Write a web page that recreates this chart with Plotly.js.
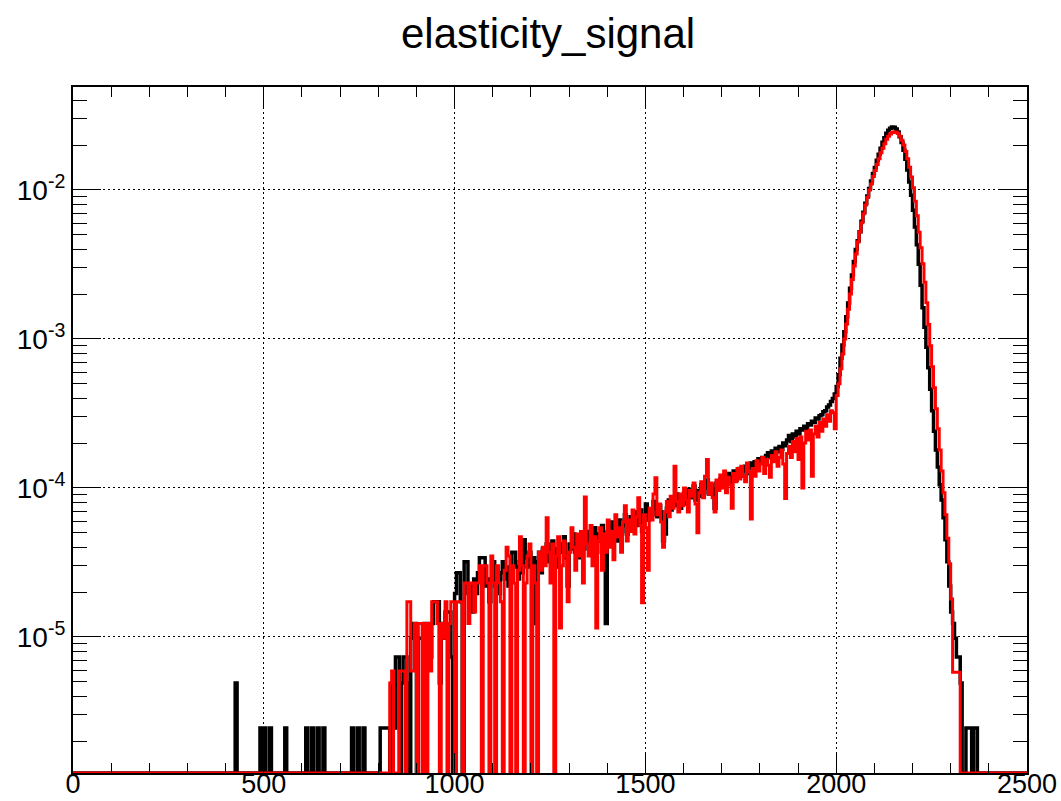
<!DOCTYPE html>
<html>
<head>
<meta charset="utf-8">
<script src="https://cdn.plot.ly/plotly-3.0.1.min.js"></script>
<style>
html,body{margin:0;padding:0;background:#fff;}
#chart{width:1061px;height:801px;}
</style>
</head>
<body>
<div id="chart"></div>
<script>
// ---------------- data ----------------
const chartTitle = "elasticity_signal";

// histogram binning
const histMin = 0;
const histMax = 2500;
const binWidth = 5;
const denseStart = 800;   // first bin of the dense arrays below

// isolated low-x bins of the black histogram (bin lower edge, content)
const blackSparseBins = [425, 490, 500, 515, 555, 610, 625, 640, 655, 730, 745, 760];
const blackSparseValues = [4.9e-6, 2.45e-6, 2.45e-6, 2.45e-6, 2.45e-6, 2.45e-6, 2.45e-6, 2.45e-6, 2.45e-6, 2.45e-6, 2.45e-6, 2.45e-6];

// black histogram, bins 800 ... 2395 (width 5)
const blackDense = [
  // 800 - 995
  0, 2.45e-6, 2.45e-6, 2.45e-6, 2.45e-6, 2.45e-6, 0, 4.9e-6, 2.45e-6, 7.35e-6,
  7.35e-6, 0, 4.9e-6, 7.35e-6, 7.35e-6, 4.9e-6, 0, 9.8e-6, 1.23e-5, 1.23e-5,
  0, 9.8e-6, 9.8e-6, 9.8e-6, 1.23e-5, 1.23e-5, 1.23e-5, 7.35e-6, 1.23e-5, 1.72e-5,
  1.72e-5, 1.72e-5, 4.9e-6, 1.23e-5, 9.8e-6, 1.47e-5, 1.47e-5, 1.47e-5, 7.35e-6, 0,
  // 1000 - 1195
  1.96e-5, 2.7e-5, 2.7e-5, 1.72e-5, 0, 3.2e-5, 3.2e-5, 1.96e-5, 2.2e-5, 1.47e-5,
  2.45e-5, 1.96e-5, 2.7e-5, 3.4e-5, 3.4e-5, 3.4e-5, 2.2e-5, 2.45e-5, 1.72e-5, 2.45e-5,
  3.2e-5, 2.2e-5, 2.7e-5, 1.96e-5, 2.7e-5, 3.2e-5, 2.45e-5, 2.95e-5, 2.2e-5, 2.7e-5,
  3.7e-5, 3.7e-5, 2.95e-5, 2.45e-5, 3.2e-5, 2.7e-5, 4.5e-5, 3.4e-5, 2.95e-5, 3.7e-5,
  // 1200 - 1395
  2.95e-5, 3.4e-5, 1.23e-5, 3.2e-5, 3.7e-5, 2.7e-5, 3.9e-5, 3.4e-5, 4.2e-5, 3.2e-5,
  3.7e-5, 4.4e-5, 3.4e-5, 3.9e-5, 2.95e-5, 4.2e-5, 3.7e-5, 4.7e-5, 3.4e-5, 2.2e-5,
  4.2e-5, 3.9e-5, 4.9e-5, 3.7e-5, 4.4e-5, 3.4e-5, 4.7e-5, 3.9e-5, 4.4e-5, 5.1e-5,
  3.9e-5, 4.7e-5, 4.2e-5, 5.4e-5, 3.7e-5, 4.9e-5, 4.4e-5, 5.6e-5, 4.2e-5, 1.23e-5,
  // 1400 - 1595
  5.1e-5, 4.4e-5, 5.9e-5, 4.9e-5, 5.4e-5, 4.4e-5, 6.1e-5, 5.1e-5, 5.6e-5, 6.6e-5,
  4.9e-5, 5.9e-5, 6.4e-5, 5.4e-5, 6.9e-5, 5.6e-5, 6.1e-5, 7.1e-5, 5.1e-5, 6.6e-5,
  7.8e-5, 6.1e-5, 7.1e-5, 6.6e-5, 8.1e-5, 7.3e-5, 6.4e-5, 7.6e-5, 6.9e-5, 4.4e-5,
  4.9e-5, 7.3e-5, 8.3e-5, 7.1e-5, 8.6e-5, 7.6e-5, 9.1e-5, 8.1e-5, 7.3e-5, 8.8e-5,
  // 1600 - 1795
  9.3e-5, 7.8e-5, 9.8e-5, 8.6e-5, 9.1e-5, 1.03e-4, 8.3e-5, 9.6e-5, 8.8e-5, 1.05e-4,
  9.3e-5, 1.0e-4, 1.13e-4, 9.1e-5, 1.05e-4, 9.8e-5, 7.3e-5, 1.08e-4, 1.0e-4, 1.15e-4,
  1.03e-4, 1.2e-4, 1.1e-4, 1.25e-4, 1.08e-4, 1.18e-4, 1.3e-4, 1.13e-4, 1.25e-4, 1.35e-4,
  1.2e-4, 1.3e-4, 1.4e-4, 1.25e-4, 1.37e-4, 1.47e-4, 1.32e-4, 1.5e-4, 1.42e-4, 1.57e-4,
  // 1800 - 1995
  1.47e-4, 1.6e-4, 1.52e-4, 1.65e-4, 1.72e-4, 1.6e-4, 1.77e-4, 1.67e-4, 1.85e-4, 1.75e-4,
  1.9e-4, 1.82e-4, 2.0e-4, 1.92e-4, 2.1e-4, 2.25e-4, 2.05e-4, 2.3e-4, 2.2e-4, 2.4e-4,
  2.3e-4, 2.5e-4, 2.45e-4, 2.6e-4, 2.5e-4, 2.7e-4, 2.65e-4, 2.8e-4, 2.75e-4, 2.95e-4,
  2.9e-4, 3.05e-4, 3.1e-4, 3.25e-4, 3.3e-4, 3.5e-4, 3.6e-4, 3.8e-4, 3.98e-4, 4.27e-4,
  // 2000 - 2195
  4.79e-4, 5.75e-4, 7.41e-4, 9.12e-4, 1.12e-3, 1.41e-3, 1.74e-3, 2.19e-3, 2.69e-3, 3.31e-3,
  3.98e-3, 4.57e-3, 5.25e-3, 6.17e-3, 7.08e-3, 8.13e-3, 9.12e-3, 1.023e-2, 1.148e-2, 1.288e-2,
  1.413e-2, 1.585e-2, 1.738e-2, 1.905e-2, 2.089e-2, 2.239e-2, 2.399e-2, 2.512e-2, 2.6e-2, 2.65e-2,
  2.64e-2, 2.57e-2, 2.45e-2, 2.28e-2, 2.08e-2, 1.85e-2, 1.61e-2, 1.36e-2, 1.13e-2, 9.2e-3,
  // 2200 - 2395
  7.3e-3, 5.65e-3, 4.29e-3, 3.17e-3, 2.29e-3, 1.62e-3, 1.2e-3, 8.8e-4, 6.4e-4, 4.6e-4,
  3.3e-4, 2.4e-4, 1.8e-4, 1.38e-4, 1.05e-4, 8.3e-5, 6.3e-5, 4.5e-5, 3.2e-5, 2.2e-5,
  1.47e-5, 1.23e-5, 9.8e-6, 7.35e-6, 7.35e-6, 4.9e-6, 0, 0, 2.45e-6, 2.45e-6,
  2.45e-6, 0, 2.45e-6, 2.45e-6, 0, 0, 0, 0, 0, 0
];

// red histogram, bins 800 ... 2395 (width 5)
const redDense = [
  // 800 - 995
  0, 0, 0, 0, 0, 0, 4.9e-6, 5.9e-6, 0, 0,
  0, 5.9e-6, 5.9e-6, 5.9e-6, 0, 1.72e-5, 1.72e-5, 5.9e-6, 5.9e-6, 1.23e-5,
  0, 1.23e-5, 1.23e-5, 0, 1.23e-5, 0, 1.23e-5, 5.9e-6, 1.72e-5, 1.72e-5,
  1.72e-5, 1.23e-5, 0, 1.23e-5, 9.8e-6, 1.72e-5, 0, 1.23e-5, 1.72e-5, 1.72e-5,
  // 1000 - 1195
  0, 1.72e-5, 1.72e-5, 1.72e-5, 0, 2.3e-5, 2.3e-5, 1.23e-5, 2.3e-5, 2.3e-5,
  1.47e-5, 2.3e-5, 2.3e-5, 3.0e-5, 0, 3.0e-5, 3.0e-5, 2.3e-5, 0, 3.5e-5,
  2.3e-5, 0, 3.0e-5, 2.3e-5, 1.72e-5, 0, 2.8e-5, 4.0e-5, 3.5e-5, 0,
  3.0e-5, 2.3e-5, 0, 2.8e-5, 4.7e-5, 3.0e-5, 0, 2.3e-5, 3.5e-5, 4.2e-5,
  // 1200 - 1395
  0, 3.0e-5, 2.3e-5, 0, 3.7e-5, 2.8e-5, 4.0e-5, 3.0e-5, 6.3e-5, 3.7e-5,
  2.3e-5, 4.2e-5, 0, 3.5e-5, 4.7e-5, 1.15e-5, 3.0e-5, 4.4e-5, 3.5e-5, 1.72e-5,
  3.7e-5, 5.4e-5, 4.0e-5, 2.8e-5, 4.9e-5, 3.5e-5, 5.1e-5, 2.3e-5, 8.7e-5, 4.2e-5,
  3.5e-5, 5.6e-5, 3.0e-5, 4.7e-5, 1.15e-5, 4.4e-5, 5.4e-5, 2.8e-5, 4.9e-5, 3.7e-5,
  // 1400 - 1595
  6.1e-5, 4.0e-5, 5.1e-5, 3.3e-5, 6.6e-5, 4.7e-5, 5.4e-5, 3.7e-5, 5.9e-5, 7.6e-5,
  4.4e-5, 6.1e-5, 5.1e-5, 7.1e-5, 4.9e-5, 6.4e-5, 8.6e-5, 5.6e-5, 1.7e-5, 6.6e-5,
  5.4e-5, 2.8e-5, 7.3e-5, 6.1e-5, 9.1e-5, 1.17e-4, 6.6e-5, 7.8e-5, 5.9e-5, 4.0e-5,
  6.9e-5, 8.1e-5, 6.4e-5, 8.8e-5, 7.3e-5, 1.4e-4, 8.1e-5, 6.9e-5, 9.1e-5, 7.6e-5,
  // 1600 - 1795
  1.0e-4, 8.3e-5, 6.9e-5, 9.6e-5, 8.8e-5, 1.08e-4, 7.8e-5, 5.0e-5, 9.3e-5, 1.1e-4,
  8.6e-5, 1.2e-4, 1.55e-4, 9.1e-5, 1.08e-4, 8.6e-5, 6.9e-5, 1.13e-4, 9.6e-5, 1.22e-4,
  1.0e-4, 1.3e-4, 9.3e-5, 1.18e-4, 1.05e-4, 7.3e-5, 1.25e-4, 1.1e-4, 1.35e-4, 1.15e-4,
  1.4e-4, 1.2e-4, 1.1e-4, 1.47e-4, 1.28e-4, 6.2e-5, 1.35e-4, 1.2e-4, 1.52e-4, 1.3e-4,
  // 1800 - 1995
  1.45e-4, 1.6e-4, 1.25e-4, 1.55e-4, 1.42e-4, 1.18e-4, 1.65e-4, 1.5e-4, 1.75e-4, 1.4e-4,
  1.6e-4, 1.8e-4, 1.45e-4, 8.5e-5, 1.7e-4, 1.9e-4, 1.6e-4, 2.05e-4, 1.75e-4, 2.15e-4,
  1.55e-4, 2.2e-4, 1.0e-4, 2.0e-4, 2.4e-4, 2.1e-4, 2.45e-4, 1.2e-4, 2.3e-4, 2.6e-4,
  2.2e-4, 2.75e-4, 2.4e-4, 2.9e-4, 2.6e-4, 3.1e-4, 2.8e-4, 3.3e-4, 3.2e-4, 2.5e-4,
  // 2000 - 2195
  4.17e-4, 5.01e-4, 6.31e-4, 7.94e-4, 1.0e-3, 1.26e-3, 1.585e-3, 2.0e-3, 2.51e-3, 3.09e-3,
  3.72e-3, 4.47e-3, 5.25e-3, 6.03e-3, 6.92e-3, 7.94e-3, 8.91e-3, 1.0e-2, 1.096e-2, 1.23e-2,
  1.35e-2, 1.48e-2, 1.62e-2, 1.78e-2, 1.905e-2, 2.04e-2, 2.19e-2, 2.29e-2, 2.37e-2, 2.43e-2,
  2.45e-2, 2.44e-2, 2.39e-2, 2.29e-2, 2.16e-2, 2.0e-2, 1.81e-2, 1.62e-2, 1.42e-2, 1.22e-2,
  // 2200 - 2395
  1.035e-2, 8.4e-3, 6.7e-3, 5.2e-3, 4.1e-3, 3.2e-3, 2.4e-3, 1.75e-3, 1.25e-3, 9.0e-4,
  6.5e-4, 4.7e-4, 3.4e-4, 2.5e-4, 1.8e-4, 1.3e-4, 9.3e-5, 6.6e-5, 4.6e-5, 3.1e-5,
  1.8e-5, 5.8e-6, 5.8e-6, 5.8e-6, 5.8e-6, 0, 0, 0, 0, 0,
  0, 0, 0, 0, 0, 0, 0, 0, 0, 0
];

// axis ticks
const xTickVals = [0, 500, 1000, 1500, 2000, 2500];
const xTickText = ["0", "500", "1000", "1500", "2000", "2500"];
const yTickVals = [1e-5, 1e-4, 1e-3, 1e-2];
const yTickText = ["10<sup>-5</sup>", "10<sup>-4</sup>", "10<sup>-3</sup>", "10<sup>-2</sup>"];

// ---------------- drawing ----------------
const yRange = [-5.913, -1.309];
const yFloor = Math.pow(10, yRange[0]);

function buildHist(sparseBins, sparseVals, dense) {
  const nBins = Math.round((histMax - histMin) / binWidth);
  const vals = new Array(nBins).fill(0);
  sparseBins.forEach((b, i) => { vals[Math.round((b - histMin) / binWidth)] = sparseVals[i]; });
  const off = Math.round((denseStart - histMin) / binWidth);
  dense.forEach((v, i) => { if (off + i < nBins) vals[off + i] = v; });
  const x = [], y = [];
  for (let i = 0; i < nBins; i++) {
    x.push(histMin + i * binWidth);
    y.push(vals[i] > 0 ? vals[i] : yFloor);
  }
  x.push(histMax); y.push(y[y.length - 1]);
  return { x, y };
}

const hBlack = buildHist(blackSparseBins, blackSparseValues, blackDense);
const hRed = buildHist([], [], redDense);

// minor tick positions
const xMinor = [];
for (let v = histMin; v <= histMax; v += 100) xMinor.push(v);
const yMinor = [];
for (let e = -7; e <= -1; e++) for (let d = 2; d <= 9; d++) yMinor.push(d * Math.pow(10, e));

const fontFam = "Liberation Sans, Arial, Helvetica, sans-serif";

const traces = [
  { x: hBlack.x, y: hBlack.y, type: 'scatter', mode: 'lines',
    line: { shape: 'hv', color: '#000000', width: 3.5 }, hoverinfo: 'skip' },
  { x: hRed.x, y: hRed.y, type: 'scatter', mode: 'lines',
    line: { shape: 'hv', color: '#ff0000', width: 3 }, hoverinfo: 'skip' }
];

const layout = {
  width: 1061, height: 801,
  margin: { l: 73, r: 34, t: 87, b: 28, pad: 0 },
  paper_bgcolor: '#ffffff', plot_bgcolor: '#ffffff',
  showlegend: false,
  title: { text: chartTitle, font: { family: fontFam, size: 42, color: '#000' },
           xref: 'paper', x: 0.498, xanchor: 'center', yref: 'container', y: 0.977, yanchor: 'top' },
  xaxis: {
    range: [histMin, histMax], tickmode: 'array', tickvals: xTickVals, ticktext: xTickText,
    ticks: 'inside', ticklen: 20, tickwidth: 1, tickcolor: '#000',
    showline: true, linecolor: '#000', linewidth: 2, mirror: 'allticks',
    showgrid: true, gridcolor: '#000', griddash: '2px,3px', gridwidth: 1,
    zeroline: false, automargin: false, ticklabelstandoff: -14,
    tickfont: { family: fontFam, size: 27, color: '#000' },
    minor: { tickmode: 'array', tickvals: xMinor, ticks: 'inside', ticklen: 10, tickwidth: 1, tickcolor: '#000', showgrid: false }
  },
  yaxis: {
    type: 'log', range: yRange, tickmode: 'array', tickvals: yTickVals, ticktext: yTickText,
    ticks: 'inside', ticklen: 28, tickwidth: 1, tickcolor: '#000',
    showline: true, linecolor: '#000', linewidth: 2, mirror: 'allticks',
    showgrid: true, gridcolor: '#000', griddash: '2px,3px', gridwidth: 1,
    zeroline: false, automargin: false,
    tickfont: { family: fontFam, size: 28, color: '#000' },
    minor: { tickmode: 'array', tickvals: yMinor, ticks: 'inside', ticklen: 14, tickwidth: 1, tickcolor: '#000', showgrid: false }
  }
};

Plotly.newPlot('chart', traces, layout, { staticPlot: true, displayModeBar: false });
</script>
</body>
</html>
